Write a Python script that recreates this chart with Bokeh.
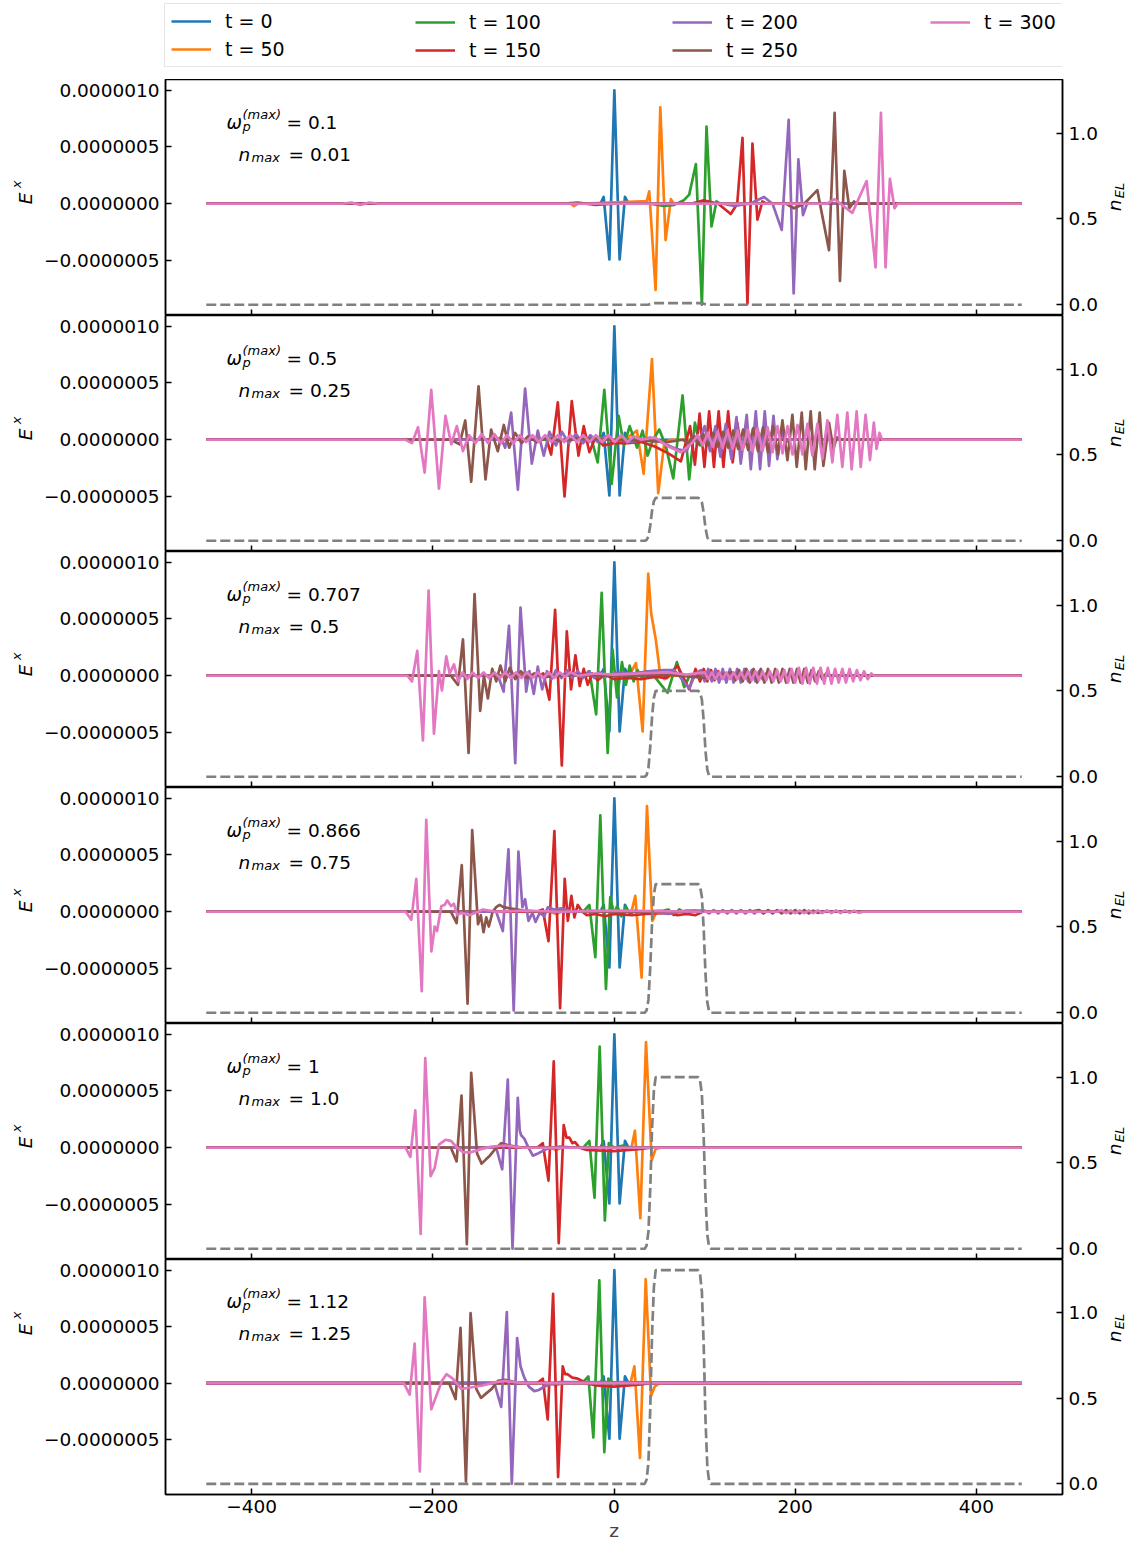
from math import pi
from bokeh.plotting import figure
from bokeh.models import Range1d, LinearAxis, FixedTicker, Label, Legend, LegendItem
from bokeh.layouts import column, row
from bokeh.embed import file_html
from bokeh.resources import INLINE

# ---------------- data ----------------
LABELS = ["t = 0", "t = 50", "t = 100", "t = 150", "t = 200", "t = 250", "t = 300"]
COLORS = ["#1f77b4", "#ff7f0e", "#2ca02c", "#d62728", "#9467bd", "#8c564b", "#e377c2"]
OMEGA_MAX_TEXT = ["0.1", "0.5", "0.707", "0.866", "1", "1.12"]
N_MAX = [0.01, 0.25, 0.5, 0.75, 1.0, 1.25]
N_MAX_TEXT = ["0.01", "0.25", "0.5", "0.75", "1.0", "1.25"]
X_TICKS = [-400, -200, 0, 200, 400]
X_TICK_LABELS = ["\u2212400", "\u2212200", "0", "200", "400"]
E_TICKS = [-5e-7, 0.0, 5e-7, 1e-6]
E_TICK_LABELS = ["\u22120.0000005", "0.0000000", "0.0000005", "0.0000010"]
N_TICKS = [0.0, 0.5, 1.0]
N_TICK_LABELS = ["0.0", "0.5", "1.0"]
E_UNIT = 1e-6  # field values below are in units of 1e-6

# plasma slab profile (fraction of n_max) vs z
PROFILE_Z = [-450, 34, 36, 38, 40, 42, 44, 46, 93, 95, 97, 99, 101, 103, 105, 107, 450]
PROFILE_F = [0, 0, 0.02, 0.1, 0.35, 0.7, 0.92, 1.0, 1.0, 0.98, 0.9, 0.65, 0.3, 0.08, 0.01, 0, 0]

# (z, E) points of each pulse; t = 0 is the same initial pulse in every panel
T0 = [(-450, 0), (-15, 0), (-11.4, 0.06), (-5.1, -0.49), (0.4, 1.0), (6.2, -0.49), (12.1, 0.06), (16, 0), (450, 0)]

# panel 1: omega = 0.1
P1_T50 = [(-450, 0), (-48, 0), (-44.4, -0.02), (-40, 0), (30, 0.02), (36, 0.02), (38.9, 0.11), (45.9, -0.76),
          (51.1, 0.85), (56.9, -0.32), (62.8, 0.04), (66, 0), (450, 0)]
P1_T100 = [(-450, 0), (40, 0), (55, -0.02), (66.5, -0.01), (77, 0.03), (83, 0.08), (90.4, 0.35), (97.0, -0.89),
           (102.1, 0.68), (107.6, -0.20), (113.1, 0.02), (117, 0), (450, 0)]
P1_T150 = [(-450, 0), (85, 0), (99, 0.03), (115, 0.0), (128.9, -0.09), (136, 0.0), (141.8, 0.58), (147.3, -0.88),
           (152.8, 0.53), (158.3, -0.14), (163.8, 0.02), (168, 0), (450, 0)]
P1_T200 = [(-450, 0), (120, 0), (132.6, -0.02), (150, 0), (165.6, 0.06), (175, 0.0), (185.1, -0.23), (192.8, 0.74),
           (198.3, -0.79), (203.5, 0.39), (208.6, -0.10), (213, 0), (450, 0)]
P1_T250 = [(-450, 0), (-60, 0), (-40, 0.01), (-20, -0.01), (0, 0), (190, 0), (198.7, -0.04), (210, 0.0),
           (224.4, 0.12), (237.3, -0.41), (243.5, 0.80), (249.4, -0.68), (254.2, 0.29), (259.7, -0.04),
           (264.9, 0.02), (268, 0), (450, 0)]
P1_T300 = [(-450, 0), (-300, 0), (-290, 0.01), (-280, -0.01), (-270, 0.01), (-260, 0), (235, 0), (243.5, 0.04),
           (263, -0.08), (278.8, 0.20), (288.7, -0.56), (294.6, 0.80), (299.7, -0.56), (304.5, 0.22),
           (309.6, -0.04), (313, 0), (450, 0)]

# panel 2: omega = 0.5
P2_T50 = [(-450, 0), (0, 0), (15, 0.02), (25.3, 0.08), (32.7, -0.30), (41.9, 0.71), (48.8, -0.47), (55.5, -0.03),
          (62, 0), (450, 0)]
P2_T100 = [(-450, 0), (-32, 0), (-25.3, 0.02), (-18.0, -0.20), (-10.7, 0.44), (-2.6, -0.39), (5.1, 0.21),
           (11, -0.05), (17.3, 0.12), (25.4, -0.07), (31.6, 0.08), (37.1, -0.14), (43, 0.0), (50.0, 0.09),
           (57, -0.05), (65.4, -0.34), (75.7, 0.39), (83.0, -0.35), (89.3, 0.15), (95, -0.05), (100, 0.02),
           (105, 0), (450, 0)]
P2_T150 = [(-450, 0), (-80, 0), (-75, 0.02), (-69.4, -0.13), (-62, 0.33), (-54.6, -0.50), (-46.6, 0.34),
           (-39.2, -0.14), (-33.4, 0.12), (-27.2, -0.11), (-20, 0.03), (-12, -0.05), (0, -0.03), (15, -0.03),
           (30, -0.02), (45, -0.06), (60, -0.12), (73.8, -0.19), (84, 0.12), (89.3, -0.22), (94.5, 0.23),
           (99.8, -0.24), (105, 0.25), (110.3, -0.24), (115.5, 0.25), (120.8, -0.24), (126, 0.25), (131, -0.2),
           (136, 0.15), (141, -0.1), (146, 0), (450, 0)]
P2_T200 = [(-450, 0), (-130, 0), (-125, 0.02), (-120.1, -0.07), (-113.5, 0.24), (-106.1, -0.44), (-98.1, 0.45),
           (-90.7, -0.21), (-84.1, 0.08), (-77.5, -0.14), (-71.3, 0.07), (-64, -0.05), (-57.6, 0.07), (-50, -0.03),
           (-42, 0.05), (-34, -0.03), (-26, 0.04), (-18, -0.02), (-10, 0.03), (0, 0), (20, -0.02), (40, 0.02),
           (55, -0.03), (68, -0.08), (80, -0.1), (88, 0.04), (94, -0.02), (100, 0.12), (106, -0.1), (112, 0.12),
           (117.5, -0.15), (123.4, 0.14), (129.6, -0.17), (135.2, 0.20), (139.9, -0.21), (146.5, 0.22),
           (151, -0.26), (156.5, 0.25), (161.2, -0.26), (166.4, 0.25), (171.1, -0.23), (176, 0.21),
           (180.3, -0.17), (184.7, 0.08), (189, -0.03), (193, 0), (450, 0)]
P2_T250 = [(-450, 0), (-180, 0), (-170.4, -0.04), (-164.2, 0.17), (-157.6, -0.37), (-149.5, 0.47),
           (-141.8, -0.35), (-135.6, 0.09), (-128.3, -0.10), (-121.6, 0.13), (-115.7, -0.07), (-109.1, 0.06),
           (-102, -0.03), (-95, 0.03), (-85, -0.02), (-75, 0.02), (-60, -0.01), (-40, 0.01), (0, 0), (60, -0.02),
           (76, 0.0), (82, -0.03), (87.5, 0.03), (93, -0.04), (98.5, 0.05), (104, -0.05), (109.5, 0.06),
           (115, -0.06), (120.5, 0.07), (126, -0.07), (131.5, 0.08), (137, -0.08), (142.5, 0.09), (148, -0.09),
           (153.5, 0.1), (159, -0.1), (164.5, 0.11), (170, -0.11), (175.5, 0.12), (181, -0.13), (185.9, 0.17),
           (191.4, -0.18), (196.9, 0.22), (201.7, -0.24), (207.2, 0.24), (211.6, -0.26), (217.1, 0.25),
           (221.5, -0.26), (227, 0.24), (231.1, -0.23), (237.3, 0.15), (242.1, -0.08), (246, 0.02), (250, 0),
           (450, 0)]
P2_T300 = [(-450, 0), (-230, 0), (-223, -0.03), (-216.3, 0.11), (-209, -0.29), (-201.7, 0.44), (-193.2, -0.43),
           (-186, 0.21), (-179.6, -0.04), (-173.5, 0.12), (-166.7, -0.10), (-160, 0.04), (-153, -0.03),
           (-146, 0.05), (-139, -0.03), (-132, 0.05), (-125, -0.03), (-118, 0.04), (-111, -0.03), (-104, 0.04),
           (-97, -0.02), (-90, 0.04), (-83, -0.02), (-76, 0.04), (-69, -0.02), (-62, 0.04), (-55, -0.02),
           (-48, 0.04), (-41, -0.02), (-34, 0.04), (-27, -0.02), (-20, 0.04), (-13, -0.02), (-6, 0.04),
           (1, -0.02), (8, 0.04), (15, -0.02), (22, 0.03), (30, 0.0), (45, 0.02), (60, -0.06), (74, -0.11),
           (86, -0.03), (92.5, 0.04), (98, -0.05), (103.5, 0.06), (109, -0.06), (114.5, 0.07), (120, -0.07),
           (125.5, 0.08), (131, -0.08), (136.5, 0.08), (142, -0.09), (147.5, 0.09), (153, -0.1), (158.5, 0.1),
           (164, -0.1), (169.5, 0.11), (175, -0.11), (180.5, 0.12), (186, -0.12), (191.5, 0.12), (197, -0.13),
           (202.5, 0.13), (208, -0.13), (213.5, 0.14), (219, -0.14), (224.5, 0.14), (230, -0.17), (235.5, 0.17),
           (241, -0.2), (246.5, 0.22), (252, -0.24), (257.5, 0.24), (262.3, -0.26), (267.8, 0.25), (272.3, -0.24),
           (277.7, 0.22), (282.5, -0.18), (286.8, 0.15), (289.8, -0.08), (293, 0.06), (296, 0), (450, 0)]

# panel 3: omega = 0.707
P3_T50 = [(-450, 0), (10, 0), (18, 0.02), (24.2, 0.11), (31.6, -0.49), (37.8, 0.90), (41, 0.55), (43.7, 0.43),
          (46.3, 0.31), (51.1, 0.0), (56, -0.03), (62, 0), (450, 0)]
P3_T100 = [(-450, 0), (-32, 0), (-27, 0.04), (-19.7, -0.34), (-13.6, 0.73), (-7.0, -0.68), (-1.5, 0.23),
           (3.3, -0.19), (8.8, 0.12), (13.2, -0.08), (17.3, 0.09), (21.7, -0.05), (26, 0.05), (31, -0.02),
           (36, 0.04), (45, -0.01), (52, -0.08), (59.1, -0.15), (69.4, 0.12), (77.5, -0.10), (84, 0.01),
           (90, 0), (450, 0)]
P3_T150 = [(-450, 0), (-82, 0), (-78, 0.02), (-71.3, -0.21), (-65.0, 0.58), (-57.6, -0.79), (-52.1, 0.39),
           (-47.4, -0.12), (-42.6, 0.18), (-37.8, -0.09), (-33.4, 0.06), (-29, -0.08), (-24, 0.02), (-18, -0.04),
           (-10, 0.01), (0, -0.03), (15, -0.02), (30, -0.03), (45, -0.01), (58, -0.02), (70.1, 0.09),
           (83, -0.12), (90, 0.06), (95, -0.05), (99, 0.06), (103, -0.05), (107, 0.05), (111, -0.04),
           (115, 0.04), (119, -0.02), (123, 0), (450, 0)]
P3_T200 = [(-450, 0), (-128, 0), (-121.8, -0.14), (-115.9, 0.44), (-109, -0.77), (-103.2, 0.60), (-96.9, -0.14),
           (-93.3, 0.04), (-88.5, -0.16), (-84.1, 0.08), (-79.3, -0.12), (-73.9, 0.04), (-69, -0.03), (-64, 0.05),
           (-58, -0.02), (-52, 0.05), (-46, -0.02), (-40, 0.04), (-34, -0.02), (-28, 0.04), (-22, -0.02),
           (-16, 0.03), (-10, -0.01), (0, 0.02), (20, 0.02), (40, 0.04), (55, 0.05), (66.5, 0.05), (75, -0.03),
           (83, -0.11), (90, 0.02), (96, 0.05), (100, -0.05), (104, 0.06), (108, -0.05), (112, 0.06),
           (116, -0.06), (120, 0.06), (124, -0.06), (128, 0.06), (132, -0.06), (136, 0.06), (140, -0.06),
           (144, 0.06), (148, -0.05), (152, 0.05), (156, -0.05), (160, 0.04), (164, -0.03), (168, 0.02),
           (172, 0), (450, 0)]
P3_T250 = [(-450, 0), (-180, 0), (-172.2, -0.08), (-166.7, 0.32), (-160.5, -0.68), (-153.9, 0.72),
           (-147.7, -0.31), (-143.5, 0.0), (-139.2, -0.20), (-134.4, 0.06), (-130, -0.05), (-125.4, 0.09),
           (-120, -0.05), (-115, 0.07), (-109, -0.03), (-103, 0.04), (-96, -0.02), (-88, 0.02), (-75, -0.01),
           (-50, 0.01), (0, 0), (60, 0.01), (100, -0.02), (130, 0.03), (134, -0.04), (138, 0.05), (142, -0.05),
           (146, 0.06), (150, -0.06), (154, 0.06), (158, -0.06), (162, 0.06), (166, -0.06), (170, 0.06),
           (174, -0.06), (178, 0.06), (182, -0.06), (186, 0.06), (190, -0.06), (194, 0.06), (198, -0.06),
           (202, 0.06), (206, -0.06), (210, 0.06), (214, -0.06), (218, 0.05), (222, -0.05), (226, 0.04),
           (230, -0.03), (234, 0.02), (238, 0), (450, 0)]
P3_T300 = [(-450, 0), (-228, 0), (-223, -0.05), (-217.1, 0.22), (-210.9, -0.57), (-204.6, 0.75), (-198.7, -0.51),
           (-193.2, 0.04), (-189.9, -0.13), (-185.1, 0.17), (-181.4, 0.02), (-176.6, 0.10), (-172, -0.05),
           (-167, 0.03), (-162, -0.03), (-156, 0.03), (-150, -0.02), (-144, 0.03), (-138, -0.02), (-132, 0.03),
           (-126, -0.02), (-120, 0.03), (-114, -0.02), (-108, 0.03), (-102, -0.02), (-96, 0.03), (-90, -0.02),
           (-84, 0.03), (-78, -0.02), (-72, 0.03), (-66, -0.02), (-60, 0.03), (-54, -0.01), (-48, 0.03),
           (-40, 0.0), (-20, 0.02), (0, 0.01), (30, 0.02), (60, 0.03), (80, 0.01), (100, 0.03), (104, -0.03),
           (108, 0.03), (112, -0.03), (116, 0.03), (120, -0.03), (124, 0.03), (128, -0.03), (132, 0.03),
           (136, -0.03), (140, 0.03), (144, -0.03), (148, 0.04), (152, -0.04), (156, 0.04), (160, -0.04),
           (164, 0.04), (168, -0.04), (172, 0.04), (176, -0.05), (180, 0.05), (184, -0.05), (188, 0.05),
           (192, -0.06), (196, 0.06), (200, -0.06), (204, 0.07), (208, -0.07), (212, 0.07), (216, -0.07),
           (220, 0.07), (224, -0.07), (228, 0.07), (232, -0.07), (236, 0.07), (240, -0.07), (244, 0.06),
           (248, -0.06), (252, 0.06), (256, -0.06), (260, 0.06), (264, -0.05), (268, 0.05), (272, -0.04),
           (276, 0.04), (280, -0.03), (284, 0.02), (287, 0), (450, 0)]

# panel 4: omega = 0.866
P4_T50 = [(-450, 0), (-70, 0), (-64, -0.02), (-58, 0), (15, 0.0), (19, -0.01), (23.5, 0.14), (30.5, -0.58),
          (36.4, 0.93), (42.3, -0.08), (47, 0.0), (450, 0)]
P4_T100 = [(-450, 0), (-34, 0), (-27.2, 0.06), (-20.6, -0.40), (-15.1, 0.85), (-8.9, -0.68), (-4.1, 0.13),
           (0, -0.02), (3.5, 0.05), (8, -0.04), (13, 0.04), (18, -0.02), (23, 0.01), (30, 0), (55, 0.01),
           (60, 0.02), (66, -0.03), (72, 0.02), (80, -0.02), (88, 0.01), (95, 0), (450, 0)]
P4_T150 = [(-450, 0), (-85, 0), (-78.6, 0.02), (-72.3, -0.26), (-65.8, 0.71), (-59.5, -0.85), (-54.4, 0.29),
           (-51, -0.08), (-47.0, 0.14), (-43.7, -0.05), (-40.0, 0.06), (-35, 0), (-30, -0.03), (-20, -0.02),
           (-10, -0.04), (0, -0.02), (20, -0.03), (35, -0.02), (60, -0.01), (70, -0.03), (80, -0.02),
           (90, -0.03), (98, 0), (450, 0)]
P4_T200 = [(-450, 0), (-130, 0), (-122.7, -0.17), (-116.5, 0.55), (-110.7, -0.87), (-105.5, 0.53), (-101.1, 0.04),
           (-98.1, 0.11), (-94.4, -0.08), (-90, -0.01), (-86.6, -0.09), (-82, -0.01), (-77, -0.04), (-73, 0.04),
           (-66, 0.02), (-58, 0.03), (-45, 0.0), (-30, 0.01), (0, 0.0), (40, 0.0), (60, -0.02), (80, 0.01),
           (100, 0.01), (105, -0.015), (110, 0.015), (115, -0.015), (120, 0.015), (125, -0.015), (130, 0.015),
           (135, -0.015), (140, 0.015), (145, -0.015), (150, 0.015), (155, -0.015), (160, 0.015), (165, -0.01),
           (170, 0.01), (175, 0), (450, 0)]
P4_T250 = [(-450, 0), (-180, 0), (-173.7, -0.10), (-168, 0.41), (-161.6, -0.81), (-156.5, 0.72), (-150.1, -0.11),
           (-147, -0.03), (-144, -0.18), (-141, -0.05), (-138.1, -0.13), (-134, 0.0), (-130, 0.04),
           (-126.3, 0.06), (-122, 0.04), (-115, 0.03), (-100, 0.01), (-80, 0.0), (0, 0), (150, 0), (160, 0.015),
           (165, -0.015), (170, 0.015), (175, -0.015), (180, 0.015), (185, -0.015), (190, 0.015), (195, -0.015),
           (200, 0.015), (205, -0.015), (210, 0.015), (215, -0.015), (220, 0.01), (225, -0.01), (230, 0),
           (450, 0)]
P4_T300 = [(-450, 0), (-230, 0), (-223.7, -0.07), (-218.2, 0.29), (-212.2, -0.70), (-207.2, 0.81),
           (-201.6, -0.35), (-199, -0.2), (-197.9, -0.13), (-195.3, -0.17), (-190.5, 0.05), (-187, 0.06),
           (-184.0, 0.10), (-180, 0.05), (-176.7, 0.07), (-173, -0.03), (-168, -0.01), (-160, -0.03), (-150, 0.0),
           (-144.7, 0.02), (-130, 0.0), (-100, 0.01), (-60, 0.0), (0, 0.01), (100, 0.0), (180, 0.0),
           (185, 0.012), (190, -0.012), (195, 0.012), (200, -0.012), (205, 0.012), (210, -0.012), (215, 0.012),
           (220, -0.012), (225, 0.012), (230, -0.012), (235, 0.012), (240, -0.012), (245, 0.012), (250, -0.012),
           (255, 0.012), (260, -0.01), (265, 0.01), (270, -0.01), (275, 0), (450, 0)]

# panel 5: omega = 1
P5_T50 = [(-450, 0), (-70, 0), (-64, -0.02), (-58, 0), (15, 0), (19, -0.01), (23.1, 0.15), (29.1, -0.62),
          (35.3, 0.93), (41.6, -0.11), (46, -0.01), (52, 0.0), (450, 0)]
P5_T100 = [(-450, 0), (-34, 0), (-27.2, 0.06), (-21.5, -0.44), (-15.8, 0.89), (-10.1, -0.64), (-5.7, 0.04),
           (0, 0.0), (10, 0.02), (20, 0.0), (450, 0)]
P5_T150 = [(-450, 0), (-85, 0), (-78.6, 0.04), (-72.3, -0.29), (-66.5, 0.76), (-61, -0.84), (-55.5, 0.20),
           (-52.5, 0.09), (-49.2, 0.09), (-46, 0.04), (-43, 0.05), (-38, 0.0), (-30, -0.02), (0, -0.03),
           (30, -0.01), (40, 0), (450, 0)]
P5_T200 = [(-450, 0), (-130, 0), (-123.4, -0.19), (-117.2, 0.60), (-112, -0.89), (-106.2, 0.44), (-104, 0.15),
           (-102.5, 0.11), (-99, 0.08), (-95, 0.01), (-89.6, -0.07), (-84, -0.05), (-79, -0.03), (-74, -0.01),
           (-60, 0.01), (-40, 0.0), (450, 0)]
P5_T250 = [(-450, 0), (-180, 0), (-173.7, -0.12), (-168.3, 0.46), (-162.4, -0.85), (-157.6, 0.66),
           (-151.2, -0.05), (-146.1, -0.14), (-141, -0.10), (-137, -0.07), (-131, -0.01), (-124.5, 0.04),
           (-115, 0.02), (-100, 0.0), (450, 0)]
P5_T300 = [(-450, 0), (-230, 0), (-224.8, -0.08), (-219.3, 0.33), (-213.4, -0.76), (-208.3, 0.79),
           (-202.4, -0.25), (-198, -0.18), (-193, 0.03), (-186, 0.07), (-180, 0.06), (-173, 0.0),
           (-166.7, -0.04), (-158, -0.04), (-146, -0.01), (-135, 0.01), (-120, 0.02), (-100, 0.0), (450, 0)]

# panel 6: omega = 1.12
P6_T50 = [(-450, 0), (-70, 0), (-64, -0.02), (-58, 0), (15, 0), (18, -0.01), (22.5, 0.15), (28.7, -0.66),
          (35, 0.92), (40.9, -0.11), (45, -0.03), (50, 0), (450, 0)]
P6_T100 = [(-450, 0), (-35, 0), (-28.3, 0.06), (-22.8, -0.48), (-16.2, 0.91), (-10.7, -0.61), (-6.2, 0.04),
           (0, 0), (450, 0)]
P6_T150 = [(-450, 0), (-85, 0), (-78.6, 0.04), (-73.2, -0.32), (-67.2, 0.79), (-61.7, -0.83), (-56.6, 0.15),
           (-54, 0.08), (-51.5, 0.08), (-46, 0.05), (-40, 0.04), (-30, 0.0), (-20, -0.02), (0, -0.03),
           (30, -0.01), (40, 0), (450, 0)]
P6_T200 = [(-450, 0), (-132, 0), (-124.5, -0.21), (-118.3, 0.63), (-112.8, -0.89), (-106.9, 0.40),
           (-103.2, 0.15), (-99, 0.05), (-94, -0.03), (-88, -0.07), (-83, -0.06), (-77, -0.03), (-70, -0.01),
           (-60, 0.01), (450, 0)]
P6_T250 = [(-450, 0), (-182, 0), (-174.8, -0.14), (-169.4, 0.49), (-163.4, -0.87), (-158.3, 0.62), (-152, -0.05),
           (-146.8, -0.13), (-141, -0.09), (-135, -0.05), (-128.2, 0.02), (-120, 0.03), (-105, 0.0), (450, 0)]
P6_T300 = [(-450, 0), (-232, 0), (-225.5, -0.10), (-220, 0.35), (-214.3, -0.78), (-209, 0.76), (-201.7, -0.23),
           (-197, -0.13), (-190, 0.02), (-184.9, 0.08), (-178, 0.04), (-168.6, -0.05), (-160, -0.04),
           (-145, -0.02), (-130, 0.01), (-120, 0.02), (-100, 0.0), (450, 0)]

PANELS = [
    [T0, P1_T50, P1_T100, P1_T150, P1_T200, P1_T250, P1_T300],
    [T0, P2_T50, P2_T100, P2_T150, P2_T200, P2_T250, P2_T300],
    [T0, P3_T50, P3_T100, P3_T150, P3_T200, P3_T250, P3_T300],
    [T0, P4_T50, P4_T100, P4_T150, P4_T200, P4_T250, P4_T300],
    [T0, P5_T50, P5_T100, P5_T150, P5_T200, P5_T250, P5_T300],
    [T0, P6_T50, P6_T100, P6_T150, P6_T200, P6_T250, P6_T300],
]

# ---------------- layout / style ----------------
FONT = "DejaVu Sans"
FS = "18.5px"
LEG_FS = "19px"
SUBFS = "13px"
PAGE_W = 1128
LABEL_L = 40          # left strip holding the E^x title
LABEL_R = 26          # right strip holding the n_EL title
MAIN_W = PAGE_W - LABEL_L - LABEL_R
BORDER_L = 124        # frame starts at x = 164
BORDER_R = 40         # frame ends at x = 1062
H = 236
LEG_H = 79
BOTTOM = 48
LW = 2.7

xr = Range1d(-495, 495)
n_hi = max(N_MAX)
n_range = (-0.05 * n_hi, 1.05 * n_hi)
all_vals = [e for panel in PANELS for s in panel for _, e in s]
e_lo, e_hi = min(all_vals), max(all_vals)
e_pad = 0.05 * (e_hi - e_lo)
e_range = ((e_lo - e_pad) * E_UNIT, (e_hi + e_pad) * E_UNIT)


def lab(p, x, y, text, size=FS, italic=False, angle=0.0, align="left", baseline="alphabetic"):
    p.add_layout(Label(x=x, y=y, x_units="screen", y_units="screen", text=text, text_font=FONT,
                       text_font_size=size, text_font_style="italic" if italic else "normal",
                       text_color="black", angle=angle, text_align=align, text_baseline=baseline))


def strip(w, h):
    f = figure(width=w, height=h, output_backend="svg", toolbar_location=None, title=None,
               x_axis_location=None, y_axis_location=None, min_border=0,
               x_range=Range1d(0, 1), y_range=Range1d(0, 1))
    f.grid.visible = False
    f.outline_line_color = None
    f.background_fill_color = "white"
    f.border_fill_color = "white"
    return f


# ---- legend strip (4 columns x 2 rows, column-major) ----
leg = figure(width=PAGE_W, height=LEG_H, x_range=xr, y_range=Range1d(0, 1), output_backend="svg",
             toolbar_location=None, title=None, x_axis_location=None, y_axis_location=None,
             min_border_left=LABEL_L + BORDER_L, min_border_right=LABEL_R + BORDER_R,
             min_border_top=0, min_border_bottom=0)
leg.grid.visible = False
leg.outline_line_color = None
leg.background_fill_color = "white"
leg.border_fill_color = "white"
leg_renderers = []
for i, s in enumerate(PANELS[0]):
    r = leg.line([pt[0] for pt in s], [pt[1] for pt in s], line_color=COLORS[i], line_width=LW)
    r.visible = False
    leg_renderers.append(r)

cols = [[0, 1], [2, 3], [4, 5], [6]]
col_x = [0, 245, 502, 760]
for c, idx in enumerate(cols):
    items = [LegendItem(label=LABELS[i], renderers=[leg_renderers[i]]) for i in idx]
    ybot = 12 if len(idx) == 2 else 40
    lg = Legend(items=items, location=(col_x[c], ybot), orientation="vertical",
                glyph_width=40, glyph_height=20, label_height=20, label_standoff=14,
                spacing=6, padding=6, margin=0,
                label_text_font=FONT, label_text_font_size=LEG_FS, label_text_color="black")
    if c == 0:
        lg.label_width = 898 - 12 - 40 - 14
        lg.border_line_color = "#cccccc"
        lg.border_line_width = 1.2
        lg.background_fill_color = "white"
        lg.background_fill_alpha = 1.0
    else:
        lg.border_line_color = "white"
        lg.border_line_alpha = 0.0
        lg.background_fill_alpha = 0.0
    leg.add_layout(lg, "center")

rows = [leg]
n_panels = len(PANELS)
for k, series in enumerate(PANELS):
    bot = BOTTOM if k == n_panels - 1 else 0
    fh = H + bot
    p = figure(width=MAIN_W, height=fh, x_range=xr, y_range=Range1d(*e_range),
               output_backend="svg", toolbar_location=None, title=None,
               min_border_left=BORDER_L, min_border_right=BORDER_R, min_border_top=0, min_border_bottom=bot)
    p.extra_y_ranges = {"n": Range1d(*n_range)}
    p.xgrid.visible = False
    p.ygrid.visible = False
    p.outline_line_color = "black"
    p.outline_line_width = 1.5
    p.background_fill_color = "white"
    p.border_fill_color = "white"

    for i, s in enumerate(series):
        p.line([pt[0] for pt in s], [pt[1] * E_UNIT for pt in s], line_color=COLORS[i],
               line_width=LW, line_join="round")
    p.line(PROFILE_Z, [f * N_MAX[k] for f in PROFILE_F], y_range_name="n", line_color="#808080",
           line_width=LW, line_dash="10 4")

    rax = LinearAxis(y_range_name="n", ticker=FixedTicker(ticks=N_TICKS),
                     major_label_overrides=dict(zip(N_TICKS, N_TICK_LABELS)))
    p.add_layout(rax, "right")

    p.yaxis[0].ticker = FixedTicker(ticks=E_TICKS)
    p.yaxis[0].major_label_overrides = dict(zip(E_TICKS, E_TICK_LABELS))
    p.xaxis.ticker = FixedTicker(ticks=X_TICKS)
    p.xaxis.major_label_overrides = dict(zip(X_TICKS, X_TICK_LABELS))

    for ax in p.axis:
        ax.major_tick_in = 6
        ax.major_tick_out = 0
        ax.minor_tick_line_color = None
        ax.axis_line_width = 1.5
        ax.major_tick_line_width = 1.5
        ax.axis_line_color = "black"
        ax.major_tick_line_color = "black"
        ax.major_label_text_font = FONT
        ax.major_label_text_font_size = FS
        ax.major_label_text_color = "black"
        ax.major_label_standoff = 6

    if k < n_panels - 1:
        p.xaxis.major_label_text_font_size = "0px"
        p.xaxis.major_label_text_color = None
        p.xaxis.major_label_standoff = 0
    else:
        p.xaxis.major_label_standoff = 5
        p.xaxis.axis_label = "z"
        p.xaxis.axis_label_text_font = FONT
        p.xaxis.axis_label_text_font_size = FS
        p.xaxis.axis_label_text_font_style = "normal"
        p.xaxis.axis_label_standoff = 4

    # panel annotation (mathtext-like)
    lab(p, 61, H - 43, "\u03c9", italic=True)
    lab(p, 77, H - 47, "p", size=SUBFS, italic=True)
    lab(p, 77, H - 35, "(max)", size=SUBFS, italic=True)
    lab(p, 121, H - 43, "= " + OMEGA_MAX_TEXT[k])
    lab(p, 73, H - 75, "n", italic=True)
    lab(p, 86, H - 78, "max", size=SUBFS, italic=True)
    lab(p, 123, H - 75, "= " + N_MAX_TEXT[k])

    # axis titles in side strips
    lf = strip(LABEL_L, fh)
    lab(lf, 25, fh - 119, "E", italic=True, angle=pi / 2, align="center", baseline="middle")
    lab(lf, 16, fh - 105, "x", size=SUBFS, italic=True, angle=pi / 2, align="center", baseline="middle")
    rf = strip(LABEL_R, fh)
    lab(rf, 12, fh - 126, "n", italic=True, angle=pi / 2, align="center", baseline="middle")
    lab(rf, 17, fh - 111, "EL", size=SUBFS, italic=True, angle=pi / 2, align="center", baseline="middle")

    rows.append(row(lf, p, rf, spacing=0))

layout = column(*rows, spacing=0)
open("out.html", "w").write(file_html(layout, INLINE))
